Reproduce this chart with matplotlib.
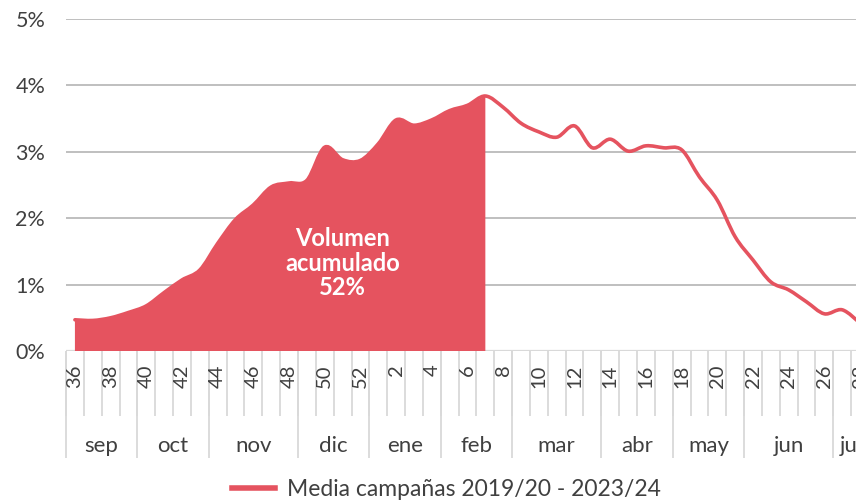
import numpy as np
import matplotlib
matplotlib.use("Agg")
import matplotlib.pyplot as plt
from matplotlib.lines import Line2D
from matplotlib.path import Path
from matplotlib.patches import PathPatch

# semanas de campaña (sep -> jul)
weeks = list(range(36, 53)) + list(range(1, 29))
# media campañas 2019/20 - 2023/24, % del volumen por semana
values = [0.47, 0.46, 0.50, 0.58, 0.68, 0.88, 1.07, 1.22, 1.62, 1.98,
          2.20, 2.47, 2.53, 2.57, 3.07, 2.88, 2.87, 3.12, 3.48, 3.40,
          3.48, 3.62, 3.70, 3.84, 3.67, 3.43, 3.30, 3.22, 3.39, 3.06,
          3.19, 3.01, 3.09, 3.06, 3.03, 2.62, 2.27, 1.72, 1.37, 1.04,
          0.92, 0.74, 0.56, 0.62, 0.42]
months = ["sep", "oct", "nov", "dic", "ene", "feb", "mar", "abr", "may", "jun", "jul"]
month_weeks = [4, 4, 5, 4, 4, 4, 5, 4, 4, 5, 2]
last_filled_week = 7
yticks = [0, 0.01, 0.02, 0.03, 0.04, 0.05]
series_label = "Media campañas 2019/20 - 2023/24"
area_label = "Volumen\nacumulado\n52%"

red = "#E5535F"
grey_txt = "#404040"
plt.rcParams['font.family'] = ['Lato', 'DejaVu Sans']


def smooth_path(px, py):
    # curva suavizada tipo Excel (bezier por catmull-rom)
    pts = np.column_stack([px, py])
    verts = [pts[0]]
    codes = [Path.MOVETO]
    n = len(pts)
    for i in range(n - 1):
        p0 = pts[max(i - 1, 0)]
        p1 = pts[i]
        p2 = pts[i + 1]
        p3 = pts[min(i + 2, n - 1)]
        verts += [p1 + (p2 - p0) / 6, p2 - (p3 - p1) / 6, p2]
        codes += [Path.CURVE4] * 3
    return verts, codes


fig = plt.figure(figsize=(8.56, 5.03), dpi=100)
ax = fig.add_axes([66/856, 1-351/503, (869-66)/856, (351-19)/503])

x = np.arange(len(weeks), dtype=float)
y = np.array(values) / 100
cut = weeks.index(last_filled_week)

for v in yticks[1:]:
    ax.axhline(v, color="#BFBFBF", lw=1.4, zorder=0)
ax.axhline(0, color="#D9D9D9", lw=1.6, zorder=0)

fv, fc = smooth_path(x[:cut+1], y[:cut+1])
fv += [(x[cut], 0), (x[0], 0), (x[0], y[0])]
fc += [Path.LINETO, Path.LINETO, Path.CLOSEPOLY]
ax.add_patch(PathPatch(Path(fv, fc), facecolor=red, lw=0, zorder=2))

lv, lc = smooth_path(x, y)
ax.add_patch(PathPatch(Path(lv, lc), facecolor="none", edgecolor=red, lw=2.6,
                       joinstyle="round", capstyle="round", zorder=3))

ax.text(15, 0.01325, area_label, color="white", fontsize=17, fontweight="bold",
        ha="center", va="center", linespacing=1.1, zorder=4)

ax.set_xlim(-0.5, len(weeks) - 0.5)
ax.set_ylim(0, 0.05)
ax.set_yticks(yticks)
ax.set_yticklabels(["{:.0%}".format(v) for v in yticks])
ax.tick_params(axis="y", length=0, pad=15, labelsize=15.5, labelcolor=grey_txt)
ax.set_xticks([])
for s in ax.spines.values():
    s.set_visible(False)

trans = ax.get_xaxis_transform()
ax.vlines(np.arange(len(weeks) + 1) - 0.5, -0.196, 0, transform=trans,
          clip_on=False, color="#D9D9D9", lw=1.3)
edges = np.concatenate([[0], np.cumsum(month_weeks)]) - 0.5
ax.vlines(edges, -0.322, 0, transform=trans, clip_on=False, color="#D9D9D9", lw=1.3)

for i, w in enumerate(weeks):
    if i % 2 == 0:
        ax.text(i, -0.04, str(w), rotation=90, ha="center", va="top", transform=trans,
                fontsize=14.5, color=grey_txt, clip_on=False)
for m, a, b in zip(months, edges[:-1], edges[1:]):
    ax.text((a + b) / 2, -0.286, m, ha="center", va="center", transform=trans,
            fontsize=16, color=grey_txt, clip_on=False)

handle = Line2D([], [], color=red, lw=4)
fig.legend(handles=[handle], labels=[series_label], loc="center",
           bbox_to_anchor=(446/856, 1-490/503), frameon=False, fontsize=16.5,
           handlelength=1.9, handletextpad=0.5, labelcolor=grey_txt)

fig.savefig("out.png", dpi=100)
